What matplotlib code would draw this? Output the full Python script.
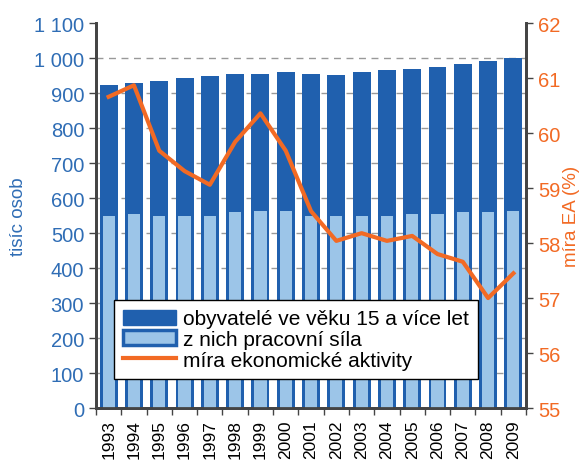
import matplotlib.pyplot as plt
import numpy as np
from matplotlib.patches import Patch
from matplotlib.lines import Line2D

plt.rcParams['font.family'] = ['Liberation Sans', 'DejaVu Sans']

years = ['1993', '1994', '1995', '1996', '1997', '1998', '1999', '2000', '2001',
         '2002', '2003', '2004', '2005', '2006', '2007', '2008', '2009']
# obyvatelé ve věku 15 a více let (tis.)
populace = [924, 930, 935, 942, 948, 954, 954, 959, 954, 953, 959, 965, 970, 976, 982, 993, 999]
# z nich pracovní síla (tis.)
prac_sila = [548, 554, 548, 548, 548, 559, 564, 564, 548, 548, 548, 548, 554, 554, 559, 559, 564]
# míra ekonomické aktivity (%)
mira_ea = [60.66, 60.87, 59.68, 59.31, 59.06, 59.84, 60.36, 59.68, 58.58, 58.04,
           58.18, 58.04, 58.13, 57.80, 57.66, 57.00, 57.45]

dark_blue = '#2060AE'
light_blue = '#9CC5E8'
orange = '#F26A24'
blue_txt = '#2F6DB5'

fig = plt.figure(figsize=(5.8, 4.64), dpi=100)
ax = fig.add_axes([0.1655, 0.1185, 0.7415, 0.8295])
x = np.arange(len(years))

ax.bar(x, populace, width=0.71, color=dark_blue, zorder=2)
ax.bar(x, prac_sila, width=0.48, color=light_blue, linewidth=0, zorder=3)

ax.set_xlim(-0.5, len(years) - 0.5)
ax.set_ylim(0, 1100)
ax.set_yticks(np.arange(0, 1101, 100))
ax.set_yticklabels(['0', '100', '200', '300', '400', '500', '600', '700', '800', '900', '1 000', '1 100'])
ax.tick_params(axis='y', colors='#444444', labelcolor=blue_txt, labelsize=14.5, length=5, width=1)
ax.set_ylabel('tisíc osob', color=blue_txt, fontsize=13.5)
ax.yaxis.set_label_coords(-0.16, 0.5)

ax.set_xticks(x)
ax.set_xticklabels(years, rotation=90, fontsize=12.5)
ax.tick_params(axis='x', which='major', length=0, pad=8)
ax.set_xticks(np.arange(-0.5, len(years), 1), minor=True)
ax.tick_params(axis='x', which='minor', length=5, width=1, color='#444444')

for yv in range(100, 1100, 100):
    ax.axhline(yv, color='#999999', linestyle=(0, (5, 4)), linewidth=1, zorder=1)

for s in ['left', 'bottom', 'right']:
    ax.spines[s].set_color('#444444')
    ax.spines[s].set_linewidth(2)
ax.spines['top'].set_visible(False)

ax2 = ax.twinx()
ax2.plot(x, mira_ea, color=orange, linewidth=3, zorder=5)
ax2.set_ylim(55, 62)
ax2.set_yticks(np.arange(55, 63, 1))
ax2.tick_params(axis='y', colors='#444444', labelcolor=orange, labelsize=14.5, length=5, width=1)
ax2.set_ylabel('míra EA (%)', color=orange, fontsize=13.5, rotation=90)
ax2.yaxis.set_label_coords(1.085, 0.5)
for s in ['left', 'bottom', 'right']:
    ax2.spines[s].set_color('#444444')
    ax2.spines[s].set_linewidth(2)
ax2.spines['top'].set_visible(False)

handles = [
    Patch(facecolor=dark_blue, edgecolor=dark_blue),
    Patch(facecolor=light_blue, edgecolor=dark_blue, linewidth=2.5),
    Line2D([0], [0], color=orange, linewidth=3),
]
labels = ['obyvatelé ve věku 15 a více let', 'z nich pracovní síla', 'míra ekonomické aktivity']
leg = ax2.legend(handles, labels, loc='lower left', bbox_to_anchor=(0.042, 0.075),
                 fontsize=15, frameon=True, fancybox=False, framealpha=1,
                 edgecolor='black', handlelength=2.5, handleheight=0.75,
                 borderpad=0.45, labelspacing=0.08, handletextpad=0.35, borderaxespad=0)
leg.get_frame().set_linewidth(1)

fig.savefig('out.png', dpi=100)
